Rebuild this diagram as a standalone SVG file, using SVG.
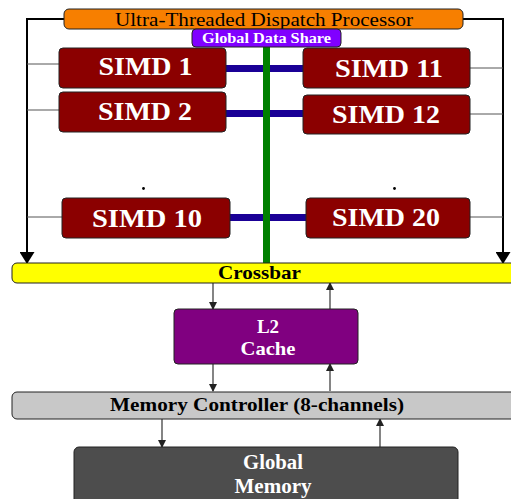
<svg xmlns="http://www.w3.org/2000/svg" width="511" height="499" viewBox="0 0 511 499">
<defs>
<style>
.box{stroke:#222;stroke-width:1}
.simd{fill:#8B0000;stroke:#222;stroke-width:1}
.st{font-family:"Liberation Serif","Times New Roman",serif;font-weight:bold;fill:#fff;text-anchor:middle}
.bt{font-family:"Liberation Serif","Times New Roman",serif;font-weight:bold;fill:#000;text-anchor:middle}
.thin{stroke:#555;stroke-width:1;fill:none}
.arr{stroke:#333;stroke-width:1.2;fill:none}
.big{stroke:#000;stroke-width:2;fill:none}
.bus{stroke:#1A0096;stroke-width:7}
</style>
<marker id="ah" markerWidth="8" markerHeight="8" refX="7" refY="4" orient="auto" markerUnits="userSpaceOnUse">
<path d="M0,0 L8,4 L0,8 Z" fill="#222"/>
</marker>
<marker id="bh" markerWidth="12" markerHeight="15" refX="11" refY="7.5" orient="auto" markerUnits="userSpaceOnUse">
<path d="M0,0 L12,7.5 L0,15 Z" fill="#000"/>
</marker>
</defs>
<rect width="511" height="499" fill="#fff"/>

<g id="connectors">
<path class="big" d="M64,19 H27 V263" marker-end="url(#bh)"/>
<path class="big" d="M463,19 H503 V263" marker-end="url(#bh)"/>
<path class="thin" d="M27,64 H59"/>
<path class="thin" d="M27,110 H59"/>
<path class="thin" d="M27,217 H62"/>
<path class="thin" d="M470,68 H503"/>
<path class="thin" d="M470,114 H503"/>
<path class="thin" d="M470,217 H503"/>
<line class="bus" x1="226" y1="68.5" x2="303" y2="68.5"/>
<line class="bus" x1="226" y1="113.5" x2="303" y2="113.5"/>
<line class="bus" x1="230" y1="217.5" x2="306" y2="217.5"/>
<line x1="266.5" y1="46" x2="266.5" y2="263" stroke="#008000" stroke-width="7"/>
<path class="arr" d="M213,283 V309" marker-end="url(#ah)"/>
<path class="arr" d="M330,309 V283" marker-end="url(#ah)"/>
<path class="arr" d="M213,364 V391" marker-end="url(#ah)"/>
<path class="arr" d="M330,391 V364" marker-end="url(#ah)"/>
<path class="arr" d="M162,419 V447" marker-end="url(#ah)"/>
<path class="arr" d="M380,447 V419" marker-end="url(#ah)"/>
<circle cx="143.5" cy="188.5" r="1.4" fill="#000"/>
<circle cx="394.5" cy="188.5" r="1.4" fill="#000"/>
</g>

<g id="dispatch">
<rect class="box" x="64" y="9" width="399" height="20" rx="5" fill="#F77F00"/>
<text x="264" y="25.5" font-family="'Liberation Serif','Times New Roman',serif" font-size="19.5" fill="#000" text-anchor="middle" textLength="298" lengthAdjust="spacingAndGlyphs">Ultra-Threaded Dispatch Processor</text>
</g>
<g id="gds">
<rect class="box" x="192" y="29" width="149" height="18" rx="4" fill="#8000FF"/>
<text class="st" x="266.5" y="43" font-size="15" textLength="129" lengthAdjust="spacingAndGlyphs">Global Data Share</text>
</g>
<g id="simd1">
<rect class="simd" x="59" y="48" width="167" height="40" rx="4"/>
<text class="st" x="145.5" y="75" font-size="26" textLength="94" lengthAdjust="spacingAndGlyphs">SIMD 1</text>
</g>
<g id="simd11">
<rect class="simd" x="303" y="48" width="167" height="40" rx="4"/>
<text class="st" x="389" y="77" font-size="26" textLength="108" lengthAdjust="spacingAndGlyphs">SIMD 11</text>
</g>
<g id="simd2">
<rect class="simd" x="59" y="92" width="167" height="40" rx="4"/>
<text class="st" x="145" y="120" font-size="26" textLength="94" lengthAdjust="spacingAndGlyphs">SIMD 2</text>
</g>
<g id="simd12">
<rect class="simd" x="303" y="95" width="167" height="39" rx="4"/>
<text class="st" x="386" y="123" font-size="26" textLength="108" lengthAdjust="spacingAndGlyphs">SIMD 12</text>
</g>
<g id="simd10">
<rect class="simd" x="62" y="198" width="168" height="40" rx="4"/>
<text class="st" x="147" y="227" font-size="26" textLength="110" lengthAdjust="spacingAndGlyphs">SIMD 10</text>
</g>
<g id="simd20">
<rect class="simd" x="306" y="198" width="164" height="40" rx="4"/>
<text class="st" x="386" y="226" font-size="26" textLength="108" lengthAdjust="spacingAndGlyphs">SIMD 20</text>
</g>
<g id="crossbar">
<rect class="box" x="12" y="263" width="510" height="20" rx="5" fill="#FFFF00"/>
<text class="bt" x="259.5" y="278.5" font-size="19" textLength="83" lengthAdjust="spacingAndGlyphs">Crossbar</text>
</g>
<g id="l2">
<rect class="box" x="174" y="309" width="184" height="55" rx="4" fill="#800080"/>
<text class="st" x="268" y="333" font-size="19">L2</text>
<text class="st" x="268" y="355" font-size="19" textLength="55" lengthAdjust="spacingAndGlyphs">Cache</text>
</g>
<g id="memctrl">
<rect class="box" x="12" y="392" width="510" height="27" rx="5" fill="#C8C8C8"/>
<text class="bt" x="257" y="411" font-size="19" fill="#111" textLength="294" lengthAdjust="spacingAndGlyphs">Memory Controller (8-channels)</text>
</g>
<g id="globalmem">
<rect class="box" x="74" y="447" width="384" height="70" rx="5" fill="#4D4D4D"/>
<text class="st" x="273" y="469" font-size="20" fill="#eee" textLength="60" lengthAdjust="spacingAndGlyphs">Global</text>
<text class="st" x="273" y="493" font-size="20" fill="#eee" textLength="77" lengthAdjust="spacingAndGlyphs">Memory</text>
</g>
</svg>
